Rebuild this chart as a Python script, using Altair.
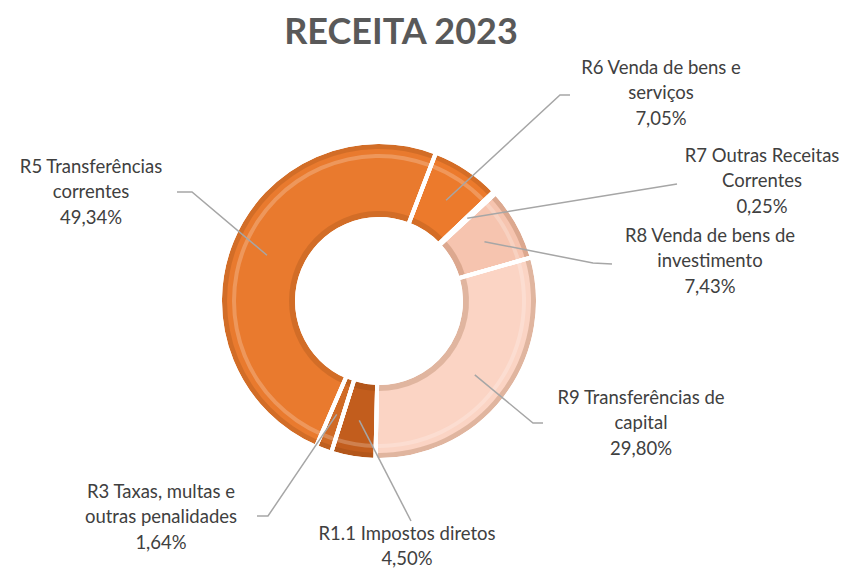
import math
import altair as alt
import pandas as pd

# ---- data ----
categories = ["R6 Venda de bens e serviços", "R7 Outras Receitas Correntes",
              "R8 Venda de bens de investimento", "R9 Transferências de capital",
              "R1.1 Impostos diretos", "R3 Taxas, multas e outras penalidades",
              "R5 Transferências correntes"]
values = [7.05, 0.25, 7.43, 29.80, 4.50, 1.64, 49.34]
label_lines = [
    "R6 Venda de bens e\nserviços\n7,05%",
    "R7 Outras Receitas\nCorrentes\n0,25%",
    "R8 Venda de bens de\ninvestimento\n7,43%",
    "R9 Transferências de\ncapital\n29,80%",
    "R1.1 Impostos diretos\n4,50%",
    "R3 Taxas, multas e\noutras penalidades\n1,64%",
    "R5 Transferências\ncorrentes\n49,34%",
]
colors = ["#EC7A2C", "#F8DDD0", "#F6C4AF", "#FBD4C4", "#C25D1D", "#D06A25", "#E97A2E"]

# ---- layout (view pixel coordinates; page = view + 8) ----
W, H = 836, 560
OFF = 8
CX, CY = 379 - OFF, 301 - OFF
R_OUT, R_IN = 159, 82
START_DEG = 21.0
ANCHOR_R = 121
FS = 18.5
LH = 25.5
# label block: centre x, centre y of first line (page coords)
label_pos = [(661, 70), (762, 158), (710, 238), (641, 400), (407, 536), (161, 494), (91, 169)]
# leader elbow and end points (page coords)
leader_elbow = [(560, 95), (677, 184), (593, 263), (533, 423), (411, 521), (268, 516), (192, 192)]
leader_end = [(570, 95), (677, 184), (612, 264), (543, 423), (411, 521), (257, 516), (177, 192)]

total = sum(values)
slices = pd.DataFrame({"cat": categories, "value": values, "ord": list(range(len(values)))})

labels = pd.DataFrame({
    "cat": categories,
    "txt": label_lines,
    "x": [p[0] - OFF for p in label_pos],
    "y": [p[1] - OFF - FS * 0.62 for p in label_pos],
})

rows = []
cum = 0.0
for i, (c, v) in enumerate(zip(categories, values)):
    mid = math.radians(START_DEG + (cum + v / 2) / total * 360)
    cum += v
    ax = CX + ANCHOR_R * math.sin(mid)
    ay = CY - ANCHOR_R * math.cos(mid)
    pts = [(ax, ay), (leader_elbow[i][0] - OFF, leader_elbow[i][1] - OFF),
           (leader_end[i][0] - OFF, leader_end[i][1] - OFF)]
    for k, (px, py) in enumerate(pts):
        rows.append({"cat": c, "k": k, "x": px, "y": py})
leaders = pd.DataFrame(rows)

xs = alt.Scale(domain=[0, W], range=[0, W])
ys = alt.Scale(domain=[0, H], range=[0, H])
start = math.radians(START_DEG)

theta = alt.Theta("value:Q", stack=True, scale=alt.Scale(range=[start, start + 2 * math.pi]))

donut = alt.Chart(slices).mark_arc(
    innerRadius=R_IN, outerRadius=R_OUT, stroke="white", strokeWidth=4
).encode(
    theta=theta,
    order=alt.Order("ord:Q"),
    color=alt.Color("cat:N", scale=alt.Scale(domain=categories, range=colors), legend=None),
    x=alt.value(CX), y=alt.value(CY),
)

# subtle bevel shading: dark rim on outer edge and inner edge, light highlight ring
outer_rim = alt.Chart(slices).mark_arc(
    innerRadius=R_OUT - 7, outerRadius=R_OUT - 2, color="#7a3a10", opacity=0.2
).encode(theta=theta, order=alt.Order("ord:Q"), x=alt.value(CX), y=alt.value(CY))
inner_rim = alt.Chart(slices).mark_arc(
    innerRadius=R_IN + 2, outerRadius=R_IN + 8, color="#7a3a10", opacity=0.2
).encode(theta=theta, order=alt.Order("ord:Q"), x=alt.value(CX), y=alt.value(CY))
highlight = alt.Chart(slices).mark_arc(
    innerRadius=R_OUT - 16, outerRadius=R_OUT - 12, color="white", opacity=0.22
).encode(theta=theta, order=alt.Order("ord:Q"), x=alt.value(CX), y=alt.value(CY))
seams = alt.Chart(slices).mark_arc(
    innerRadius=R_IN, outerRadius=R_OUT, fillOpacity=0, stroke="white", strokeWidth=4
).encode(theta=theta, order=alt.Order("ord:Q"), x=alt.value(CX), y=alt.value(CY))

lines = alt.Chart(leaders).mark_line(color="#A6A6A6", strokeWidth=1.5).encode(
    x=alt.X("x:Q", scale=xs, axis=None),
    y=alt.Y("y:Q", scale=ys, axis=None),
    detail="cat:N",
    order="k:Q",
)

texts = alt.Chart(labels).mark_text(
    font="Lato", fontSize=FS, color="#404040", align="center", baseline="top",
    lineBreak="\n", lineHeight=LH,
).encode(
    x=alt.X("x:Q", scale=xs, axis=None),
    y=alt.Y("y:Q", scale=ys, axis=None),
    text="txt:N",
)

title_df = pd.DataFrame({"t": ["RECEITA 2023"], "x": [401 - OFF], "y": [33 - OFF]})
title = alt.Chart(title_df).mark_text(
    font="Lato", fontSize=36, fontWeight="bold", color="#595959", align="center", baseline="middle"
).encode(
    x=alt.X("x:Q", scale=xs, axis=None),
    y=alt.Y("y:Q", scale=ys, axis=None),
    text="t:N",
)

chart = alt.layer(donut, outer_rim, inner_rim, highlight, seams, lines, texts, title).properties(
    width=W, height=H, padding=0, autosize=alt.AutoSizeParams(type="none")
).configure_view(stroke=None)

chart.save("out.html", embed_options={"renderer": "svg", "actions": False})
